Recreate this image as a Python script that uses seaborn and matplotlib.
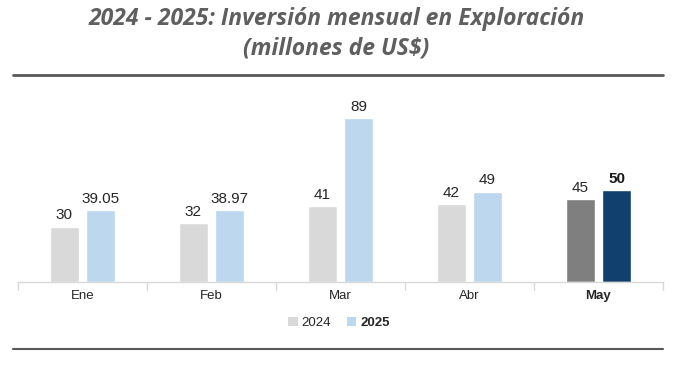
import matplotlib
matplotlib.use("Agg")
import matplotlib.pyplot as plt
import seaborn as sns
import pandas as pd
from matplotlib.lines import Line2D
from matplotlib.patches import Patch

meses = ["Ene", "Feb", "Mar", "Abr", "May"]
anios = ["2024", "2025"]
v2024 = [30, 32, 41, 42, 45]
v2025 = [39.05, 38.97, 89, 49, 50]
etq2024 = ["30", "32", "41", "42", "45"]
etq2025 = ["39.05", "38.97", "89", "49", "50"]

df = pd.DataFrame({
    "mes": meses * 2,
    "anio": [anios[0]] * 5 + [anios[1]] * 5,
    "valor": v2024 + v2025,
})

sns.set_theme(style="white")
plt.rcParams["font.family"] = ["Liberation Sans", "DejaVu Sans"]

fig = plt.figure(figsize=(6.73, 3.87), dpi=100)
ax = fig.add_axes([18/673, 1-282/387, 645/673, 182/387])

c24, c25 = "#D9D9D9", "#BDD7EE"
sns.barplot(data=df, x="mes", y="valor", hue="anio", order=meses, hue_order=anios,
            palette=[c24, c25], width=0.56, gap=0.19, ax=ax, legend=False,
            errorbar=None, saturation=1)

ax.set_ylim(0, 98.6)
ax.set_xlim(-0.5, 4.5)
ax.set_xlabel("")
ax.set_ylabel("")
ax.set_yticks([])
for s in ["top", "left", "right"]:
    ax.spines[s].set_visible(False)
ax.spines["bottom"].set_color("#D9D9D9")
ax.spines["bottom"].set_linewidth(1)

# highlight May
cont24, cont25 = ax.containers[0], ax.containers[1]
cont24.patches[4].set_facecolor("#7F7F7F")
cont25.patches[4].set_facecolor("#11406E")

for cont, labels in ((cont24, etq2024), (cont25, etq2025)):
    for i, (p, t) in enumerate(zip(cont.patches, labels)):
        bold = (cont is cont25 and i == 4)
        ax.annotate(t, (p.get_x() + p.get_width()/2, p.get_height()),
                    xytext=(0, 3), textcoords="offset points", ha="center", va="bottom",
                    fontsize=11, color="#262626" if not bold else "#1a1a1a",
                    fontweight="bold" if bold else "normal")

# tick labels
ax.set_xticks(range(5))
ax.set_xticklabels(meses, fontsize=9.5, color="#262626")
ax.get_xticklabels()[4].set_fontweight("bold")
ax.tick_params(axis="x", length=0, pad=6)
# category separator ticks
for b in [-0.5, 0.5, 1.5, 2.5, 3.5, 4.5]:
    ax.plot([b, b], [0, -4.5], color="#D9D9D9", lw=1, clip_on=False)

# legend
handles = [Patch(facecolor=c24, edgecolor="none"), Patch(facecolor=c25, edgecolor="none")]
leg = fig.legend(handles, anios, loc="center", bbox_to_anchor=(339/673, 1-323/387), ncol=2,
                 frameon=False, fontsize=9.5, handlelength=0.7, handleheight=0.7,
                 handletextpad=0.3, columnspacing=1.2)
leg.get_texts()[1].set_fontweight("bold")
for t in leg.get_texts():
    t.set_color("#262626")

# title
fig.text(0.5, 1-19/387, "2024 - 2025: Inversión mensual en Exploración", ha="center", va="center",
         fontsize=16.5, fontstyle="italic", fontweight="bold", color="#5f5f5f", family="Open Sans")
fig.text(0.5, 1-49/387, "(millones de US$)", ha="center", va="center",
         fontsize=16.5, fontstyle="italic", fontweight="bold", color="#5f5f5f", family="Open Sans")

fig.add_artist(Line2D([13/673, 663/673], [1-75/387, 1-75/387], color="#595959", lw=2))
fig.add_artist(Line2D([13/673, 663/673], [1-349/387, 1-349/387], color="#595959", lw=1.5))

fig.savefig("out.png", dpi=100)
